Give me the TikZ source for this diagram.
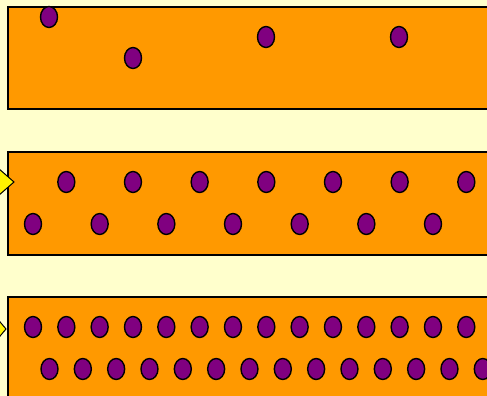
\documentclass[tikz,border=0pt]{standalone}
\usepackage{tikz}
\definecolor{paleyellow}{HTML}{FFFFCC}
\definecolor{laneorange}{HTML}{FF9900}
\definecolor{dotpurple}{HTML}{800080}

\begin{document}
\begin{tikzpicture}[x=1pt, y=-1pt,
  lane/.style={draw=black, line width=1.6pt, fill=laneorange},
  dot/.style={draw=black, line width=1.4pt, fill=dotpurple},
  pointer/.style={draw=black, line width=1pt, fill=yellow, line join=miter}]
\useasboundingbox (0,0) rectangle (487,396);
\clip (0,0) rectangle (487,396);
\fill[paleyellow] (0,0) rectangle (487,396);
% three lanes
\draw[lane] (8,7) rectangle (520,109);
\draw[lane] (8,152) rectangle (520,255);
\draw[lane] (8,297) rectangle (520,420);
% sparse lane
\foreach \x/\y in {49/17, 133/58, 266/37, 399/37}
  \draw[dot] (\x,\y) ellipse [x radius=8.5, y radius=10.5];
% medium lane
\foreach \k in {0,...,6} {
  \draw[dot] ({66.3+66.67*\k},182) ellipse [x radius=8.5, y radius=10.5];
  \draw[dot] ({33+66.67*\k},224) ellipse [x radius=8.5, y radius=10.5];
}
% dense lane
\foreach \k in {0,...,13} {
  \draw[dot] ({33+33.33*\k},327) ellipse [x radius=8.5, y radius=10.5];
  \draw[dot] ({49.5+33.33*\k},369) ellipse [x radius=8.5, y radius=10.5];
}
% pointers
\draw[pointer] (-10,161) -- (14,182) -- (-10,203);
\draw[pointer] (-10,310) -- (6,329) -- (-10,348);
\end{tikzpicture}
\end{document}
